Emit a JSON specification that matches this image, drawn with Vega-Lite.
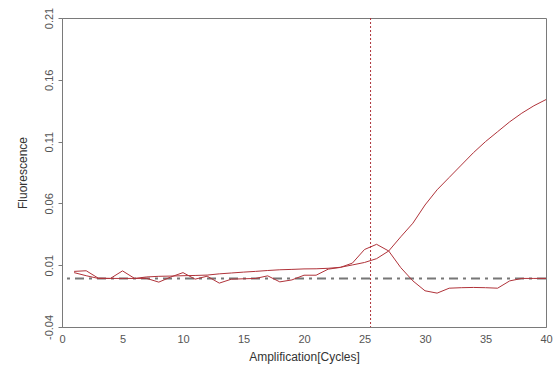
{
  "$schema": "https://vega.github.io/schema/vega-lite/v6.json",
  "width": 484,
  "height": 309,
  "autosize": {"type": "none"},
  "padding": {"left": 62, "top": 18, "right": 7, "bottom": 44},
  "background": "white",
  "config": {
    "view": {"stroke": "#7a7a7a", "strokeWidth": 1},
    "font": "Liberation Sans",
    "axis": {
      "grid": false,
      "domainColor": "#7a7a7a",
      "tickColor": "#7a7a7a",
      "labelColor": "#555555",
      "titleColor": "#333333",
      "labelFontSize": 11,
      "titleFontSize": 12,
      "titleFontWeight": "normal"
    }
  },
  "datasets": {
    "curves": [
      {"series": "A", "cycle": 1, "fluor": 0.005},
      {"series": "A", "cycle": 2, "fluor": 0.0055},
      {"series": "A", "cycle": 3, "fluor": -0.0005},
      {"series": "A", "cycle": 4, "fluor": -0.0007},
      {"series": "A", "cycle": 5, "fluor": -0.0007},
      {"series": "A", "cycle": 6, "fluor": -0.0007},
      {"series": "A", "cycle": 7, "fluor": 0.0005},
      {"series": "A", "cycle": 8, "fluor": 0.001},
      {"series": "A", "cycle": 9, "fluor": 0.0012},
      {"series": "A", "cycle": 10, "fluor": 0.0015},
      {"series": "A", "cycle": 11, "fluor": 0.0017},
      {"series": "A", "cycle": 12, "fluor": 0.002},
      {"series": "A", "cycle": 13, "fluor": 0.003},
      {"series": "A", "cycle": 14, "fluor": 0.0037},
      {"series": "A", "cycle": 15, "fluor": 0.0044},
      {"series": "A", "cycle": 16, "fluor": 0.005},
      {"series": "A", "cycle": 17, "fluor": 0.0057},
      {"series": "A", "cycle": 18, "fluor": 0.0063},
      {"series": "A", "cycle": 19, "fluor": 0.0066},
      {"series": "A", "cycle": 20, "fluor": 0.007},
      {"series": "A", "cycle": 21, "fluor": 0.0071},
      {"series": "A", "cycle": 22, "fluor": 0.0075},
      {"series": "A", "cycle": 23, "fluor": 0.0083},
      {"series": "A", "cycle": 24, "fluor": 0.0102},
      {"series": "A", "cycle": 25, "fluor": 0.0122},
      {"series": "A", "cycle": 26, "fluor": 0.0153},
      {"series": "A", "cycle": 27, "fluor": 0.0215},
      {"series": "A", "cycle": 28, "fluor": 0.033},
      {"series": "A", "cycle": 29, "fluor": 0.044},
      {"series": "A", "cycle": 30, "fluor": 0.0587},
      {"series": "A", "cycle": 31, "fluor": 0.071},
      {"series": "A", "cycle": 32, "fluor": 0.081},
      {"series": "A", "cycle": 33, "fluor": 0.091},
      {"series": "A", "cycle": 34, "fluor": 0.101},
      {"series": "A", "cycle": 35, "fluor": 0.11},
      {"series": "A", "cycle": 36, "fluor": 0.118},
      {"series": "A", "cycle": 37, "fluor": 0.126},
      {"series": "A", "cycle": 38, "fluor": 0.133},
      {"series": "A", "cycle": 39, "fluor": 0.139},
      {"series": "A", "cycle": 40, "fluor": 0.144},
      {"series": "B", "cycle": 1, "fluor": 0.004},
      {"series": "B", "cycle": 2, "fluor": 0.0015},
      {"series": "B", "cycle": 3, "fluor": -0.0007},
      {"series": "B", "cycle": 4, "fluor": -0.0007},
      {"series": "B", "cycle": 5, "fluor": 0.0054},
      {"series": "B", "cycle": 6, "fluor": -0.0007},
      {"series": "B", "cycle": 7, "fluor": -0.0007},
      {"series": "B", "cycle": 8, "fluor": -0.0037},
      {"series": "B", "cycle": 9, "fluor": 0.0005},
      {"series": "B", "cycle": 10, "fluor": 0.004},
      {"series": "B", "cycle": 11, "fluor": -0.0013},
      {"series": "B", "cycle": 12, "fluor": 0.0011},
      {"series": "B", "cycle": 13, "fluor": -0.0045},
      {"series": "B", "cycle": 14, "fluor": -0.0013},
      {"series": "B", "cycle": 15, "fluor": -0.001},
      {"series": "B", "cycle": 16, "fluor": -0.0007},
      {"series": "B", "cycle": 17, "fluor": 0.0014},
      {"series": "B", "cycle": 18, "fluor": -0.0035},
      {"series": "B", "cycle": 19, "fluor": -0.0019},
      {"series": "B", "cycle": 20, "fluor": 0.0019},
      {"series": "B", "cycle": 21, "fluor": 0.0019},
      {"series": "B", "cycle": 22, "fluor": 0.0068},
      {"series": "B", "cycle": 23, "fluor": 0.0082},
      {"series": "B", "cycle": 24, "fluor": 0.0117},
      {"series": "B", "cycle": 25, "fluor": 0.0227},
      {"series": "B", "cycle": 26, "fluor": 0.0269},
      {"series": "B", "cycle": 27, "fluor": 0.0215},
      {"series": "B", "cycle": 28, "fluor": 0.008},
      {"series": "B", "cycle": 29, "fluor": -0.0027},
      {"series": "B", "cycle": 30, "fluor": -0.0107},
      {"series": "B", "cycle": 31, "fluor": -0.0126},
      {"series": "B", "cycle": 32, "fluor": -0.0086},
      {"series": "B", "cycle": 33, "fluor": -0.0082},
      {"series": "B", "cycle": 34, "fluor": -0.008},
      {"series": "B", "cycle": 35, "fluor": -0.0082},
      {"series": "B", "cycle": 36, "fluor": -0.0086},
      {"series": "B", "cycle": 37, "fluor": -0.0027},
      {"series": "B", "cycle": 38, "fluor": -0.0007},
      {"series": "B", "cycle": 39, "fluor": -0.0007},
      {"series": "B", "cycle": 40, "fluor": -0.0007}
    ],
    "threshold": [{"fluor": -0.0007}],
    "ct": [{"cycle": 25.5}]
  },
  "layer": [
    {
      "data": {"name": "threshold"},
      "mark": {"type": "rule", "color": "#777777", "strokeWidth": 2, "strokeDash": [9, 5, 3, 5]},
      "encoding": {
        "y": {
          "field": "fluor",
          "type": "quantitative",
          "scale": {"domain": [-0.04, 0.21], "nice": false, "zero": false},
          "axis": {
            "title": "Fluorescence",
            "values": [-0.04, 0.01, 0.06, 0.11, 0.16, 0.21],
            "labelExpr": "replace(format(datum.value, '.2f'), '\u2212', '-')",
            "labelAngle": 270,
            "labelAlign": "center",
            "labelBaseline": "bottom",
            "tickSize": 4,
            "labelPadding": 4,
            "titlePadding": 14
          }
        }
      }
    },
    {
      "data": {"name": "curves"},
      "mark": {"type": "line", "color": "#b0333a", "strokeWidth": 1},
      "encoding": {
        "x": {
          "field": "cycle",
          "type": "quantitative",
          "scale": {"domain": [0, 40], "nice": false},
          "axis": {
            "title": "Amplification[Cycles]",
            "values": [0, 5, 10, 15, 20, 25, 30, 35, 40],
            "ticks": false,
            "labelPadding": 6,
            "titlePadding": 7,
            "labelFlush": false
          }
        },
        "y": {"field": "fluor", "type": "quantitative"},
        "detail": {"field": "series", "type": "nominal"}
      }
    },
    {
      "data": {"name": "ct"},
      "mark": {"type": "rule", "color": "#b0333a", "strokeWidth": 1, "strokeDash": [2, 2]},
      "encoding": {
        "x": {"field": "cycle", "type": "quantitative"}
      }
    }
  ]
}
